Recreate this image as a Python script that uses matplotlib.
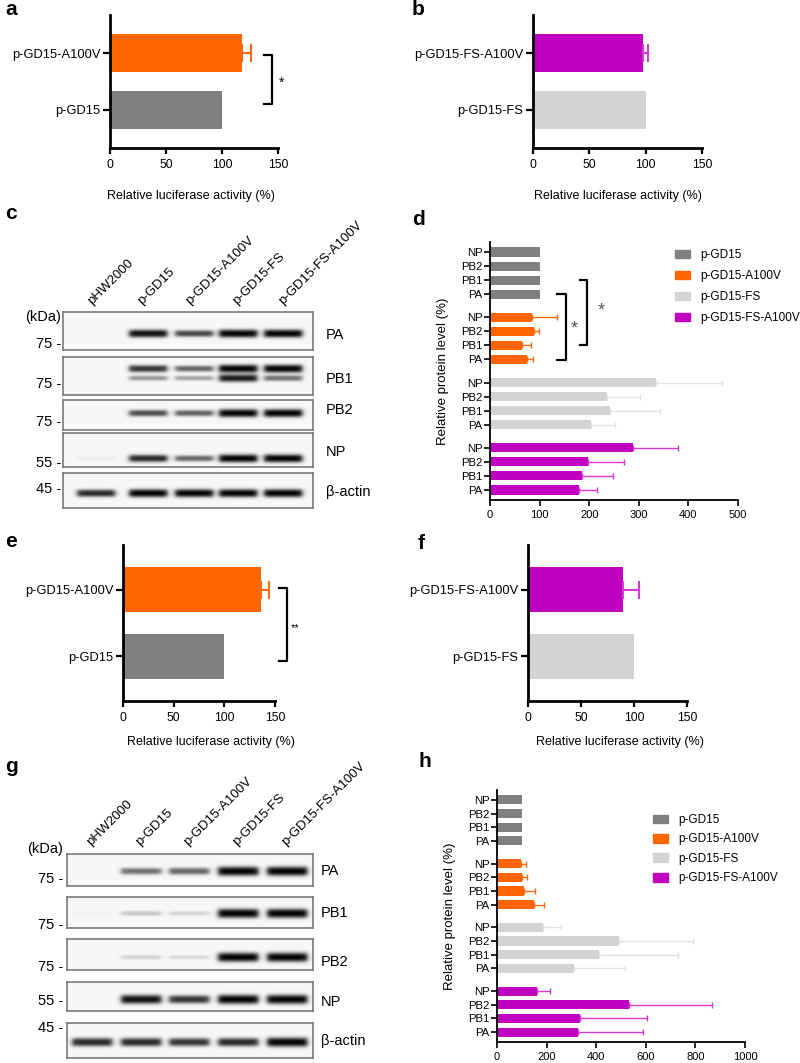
import numpy as np
import matplotlib.pyplot as plt
from matplotlib.patches import Patch

plt.rcParams['font.family'] = ['Liberation Sans', 'DejaVu Sans']

# ---------------- data ----------------
groups_gd = ['p-GD15', 'p-GD15-A100V']
groups_fs = ['p-GD15-FS', 'p-GD15-FS-A100V']
luc_a = [100, 118]
luc_a_sd = [0, 8]
luc_b = [100, 98]
luc_b_sd = [0, 4]
luc_e = [100, 136]
luc_e_sd = [0, 8]
luc_f = [100, 90]
luc_f_sd = [0, 15]

constructs = ['p-GD15', 'p-GD15-A100V', 'p-GD15-FS', 'p-GD15-FS-A100V']
proteins = ['NP', 'PB2', 'PB1', 'PA']
prot_d = [[100, 100, 100, 100], [85, 89, 65, 75], [335, 236, 241, 203], [289, 197, 186, 180]]
prot_d_sd = [[0, 0, 0, 0], [50, 10, 18, 12], [133, 67, 101, 50], [90, 73, 62, 36]]
prot_h = [[100, 100, 100, 100], [96, 100, 110, 149], [186, 491, 410, 310], [160, 533, 336, 328]]
prot_h_sd = [[0, 0, 0, 0], [22, 22, 42, 39], [74, 300, 321, 208], [55, 332, 270, 259]]

lanes = ['pHW2000', 'p-GD15', 'p-GD15-A100V', 'p-GD15-FS', 'p-GD15-FS-A100V']
blot_names = ['PA', 'PB1', 'PB2', 'NP', 'β-actin']
blot_kda = ['75 -', '75 -', '75 -', '55 -', '45 -']
# band intensity per lane (0 none .. 1 saturated)
bands_c = [[0, .95, .72, 1, 1],
           [0, .8, .6, 1, 1],
           [0, .7, .62, 1, 1],
           [.05, .85, .6, 1, 1],
           [.85, 1, 1, 1, 1]]
bands_c_pb1_low = [0, .4, .35, .9, .55]
bands_g = [[0, .55, .6, 1, 1],
           [.03, .2, .15, 1, 1],
           [0, .15, .12, 1, 1],
           [0, .95, .8, 1, 1],
           [.85, .85, .8, .85, 1]]

colors = ['#808080', '#FF6600', '#D3D3D3', '#C000C0']
ecolors = ['#808080', '#FF6A10', '#E2E2E2', '#D63AD6']

W, H = 800, 1063
fig = plt.figure(figsize=(8, 10.63), dpi=100)


def px_axes(x0, y0, x1, y1):
    return fig.add_axes([x0 / W, 1 - y1 / H, (x1 - x0) / W, (y1 - y0) / H])


def ftext(x, y, s, **kw):
    fig.text(x / W, 1 - y / H, s, **kw)


def style(ax, lw=1.6):
    for s in ['top', 'right']:
        ax.spines[s].set_visible(False)
    for s in ['left', 'bottom']:
        ax.spines[s].set_linewidth(lw)


def lucif_panel(rect, labels, vals, sds, cols, ecols, xlab_pos):
    ax = px_axes(*rect)
    y = np.arange(len(labels))
    ax.barh(y, vals, height=0.68, color=cols)
    for yi, v, e, ec in zip(y, vals, sds, ecols):
        if e > 0:
            ax.errorbar(v, yi, xerr=[[0], [e]], fmt='none', ecolor=ec,
                        elinewidth=1.5, capsize=6.5, capthick=1.5)
    ax.set_xlim(0, 150)
    ax.set_xticks([0, 50, 100, 150])
    ax.set_ylim(-0.67, 1.67)
    ax.set_yticks(y)
    ax.set_yticklabels(labels)
    ax.tick_params(axis='y', length=5, width=1.6, pad=2, labelsize=9.3)
    ax.tick_params(axis='x', length=4, width=1.6, pad=4, labelsize=8.8)
    style(ax, 2)
    ax.set_xlabel('Relative luciferase activity (%)', fontsize=9)
    ax.xaxis.set_label_coords(*xlab_pos)
    ax.xaxis.label.set_verticalalignment('center')
    return ax


def bracket(ax, x_in, x_out, y0, y1, star, sx, sy, **kw):
    ax.plot([x_in, x_out, x_out, x_in], [y0, y0, y1, y1], color='black',
            lw=1.6, clip_on=False)
    ax.text(sx, sy, star, ha='left', va='center', clip_on=False, **kw)


def protein_panel(rect, vals, sds, xmax, xticks, leg_xy, leg_space, ylab_x):
    ax = px_axes(*rect)
    step = 4.65
    ticks = []
    for g in range(4):
        pos = g * step + np.arange(4)
        ticks.extend(pos)
        ax.barh(pos, vals[g], height=0.66, color=colors[g])
        if any(sds[g]):
            ax.errorbar(vals[g], pos, xerr=[np.zeros(4), sds[g]], fmt='none',
                        ecolor=ecolors[g], elinewidth=1, capsize=2, capthick=1)
    ax.set_yticks(ticks)
    ax.set_yticklabels(proteins * 4)
    ax.set_ylim(ticks[-1] + 0.72, -0.72)
    ax.set_xlim(0, xmax)
    ax.set_xticks(xticks)
    ax.tick_params(axis='y', length=4, width=1.2, pad=1.5, labelsize=8.2)
    ax.tick_params(axis='x', length=4, width=1.2, pad=3, labelsize=8)
    style(ax, 1.3)
    ax.set_ylabel('Relative protein level (%)', fontsize=9.5)
    ax.yaxis.set_label_coords(ylab_x, 0.5)
    ax.yaxis.label.set_verticalalignment('center')
    handles = [Patch(color=c) for c in colors]
    ax.legend(handles, constructs, loc='upper left',
              bbox_to_anchor=(leg_xy[0] / W, 1 - leg_xy[1] / H),
              bbox_transform=fig.transFigure, frameon=False, fontsize=8.5,
              handlelength=1.3, handleheight=0.75, handletextpad=0.8,
              labelspacing=leg_space, borderpad=0, borderaxespad=0)
    return ax


def draw_blot(x0, x1, rows, fracs, lane_px, bands, extra=None, sig=3.5, hw=19):
    for r, (top, bot) in enumerate(rows):
        ax = px_axes(x0, top, x1, bot)
        X, Y = np.meshgrid(np.arange(x0, x1, 0.5), np.arange(top, bot, 0.5))
        dark = np.zeros_like(X)
        layers = [(bands[r], fracs[r])]
        if extra is not None and extra[0] == r:
            layers.append((extra[1], extra[2]))
        for vals, fr in layers:
            yc = top + fr * (bot - top)
            for cx, v in zip(lane_px, vals):
                s = sig * (0.45 + 0.7 * v)
                dark += v * np.exp(-np.abs((Y - yc) / s) ** 2.5) / (1 + np.exp((np.abs(X - cx) - hw) / 1.5))
        img = 0.97 - 0.95 * np.clip(dark, 0, 1)
        ax.imshow(img, cmap='gray', vmin=0, vmax=1, extent=(x0, x1, bot, top),
                  aspect='auto', interpolation='bilinear')
        ax.set_xticks([])
        ax.set_yticks([])
        for s in ax.spines.values():
            s.set_edgecolor('#7a7a7a')
            s.set_linewidth(1.2)


def blot_text(lane_px, lane_y, kda_x, kda_head_y, kda_y, name_x, name_y):
    for x, lab in zip(lane_px, lanes):
        ftext(x - 1, lane_y, lab, rotation=45, rotation_mode='anchor',
              ha='left', va='baseline', fontsize=9.5)
    ftext(kda_x, kda_head_y, '(kDa)', ha='right', va='center', fontsize=10.5)
    for y, lab in zip(kda_y, blot_kda):
        ftext(kda_x, y, lab, ha='right', va='center', fontsize=10.5)
    for y, lab in zip(name_y, blot_names):
        ftext(name_x, y, lab, ha='left', va='center', fontsize=10.5)


# ---------------- panel a ----------------
ax_a = lucif_panel((110, 15, 278, 148), groups_gd, luc_a, luc_a_sd,
                   [colors[0], colors[1]], [ecolors[0], ecolors[1]], (0.48, -0.36))
bracket(ax_a, 137.5, 145, 0.96, 0.1, '*', 151, 0.47, fontsize=10)

# ---------------- panel b ----------------
lucif_panel((533, 15, 702, 148), groups_fs, luc_b, luc_b_sd,
            [colors[2], colors[3]], [ecolors[2], ecolors[3]], (0.5, -0.36))

# ---------------- panel c ----------------
lane_c = [96, 148, 194, 238, 283]
rows_c = [(312, 350), (357, 395), (400, 430), (433, 467), (473, 508)]
draw_blot(63, 313, rows_c, [0.56, 0.3, 0.43, 0.74, 0.57], lane_c, bands_c,
          extra=(1, bands_c_pb1_low, 0.55))
blot_text([93, 143, 191, 238, 284], 305, 61, 317, [344, 384, 422, 463, 489], 326,
          [335, 379, 410, 452, 492])

# ---------------- panel d ----------------
ax_d = protein_panel((490, 242, 738, 500), prot_d, prot_d_sd, 500,
                     [0, 100, 200, 300, 400, 500], (675, 249), 0.77, -0.19)
bracket(ax_d, 135, 153, 3, 7.7, '*', 162, 5.45, fontsize=13, color='#555555')
bracket(ax_d, 181, 196, 2, 6.65, '*', 217, 4.2, fontsize=13, color='#555555')

# ---------------- panel e ----------------
ax_e = lucif_panel((123, 545, 275, 701), groups_gd, luc_e, luc_e_sd,
                   [colors[0], colors[1]], [ecolors[0], ecolors[1]], (0.58, -0.26))
bracket(ax_e, 154, 162, 1.03, -0.07, '**', 166, 0.43, fontsize=8)

# ---------------- panel f ----------------
lucif_panel((528, 545, 687, 701), groups_fs, luc_f, luc_f_sd,
            [colors[2], colors[3]], [ecolors[2], ecolors[3]], (0.58, -0.26))

# ---------------- panel g ----------------
lane_g = [92, 141, 189, 238, 287]
rows_g = [(854, 886), (897, 928), (939, 970), (982, 1011), (1023, 1058)]
draw_blot(67, 313, rows_g, [0.53, 0.52, 0.58, 0.59, 0.54], lane_g, bands_g, sig=4.0, hw=20)
blot_text(lane_g, 846, 63, 849, [879, 925, 967, 1001, 1028], 321,
          [871, 913, 962, 1002, 1041])

# ---------------- panel h ----------------
protein_panel((497, 790, 745, 1042), prot_h, prot_h_sd, 1000,
              [0, 200, 400, 600, 800, 1000], (653, 814), 0.63, -0.19)

# ---------------- panel letters ----------------
for lx, ly, s in [(5, 15, 'a'), (412, 15, 'b'), (5, 219, 'c'), (412, 225, 'd'),
                  (5, 547, 'e'), (418, 549, 'f'), (5, 772, 'g'), (418, 767, 'h')]:
    ftext(lx, ly, s, fontsize=15, fontweight='bold', va='baseline', ha='left')

fig.savefig('out.png', dpi=100)
